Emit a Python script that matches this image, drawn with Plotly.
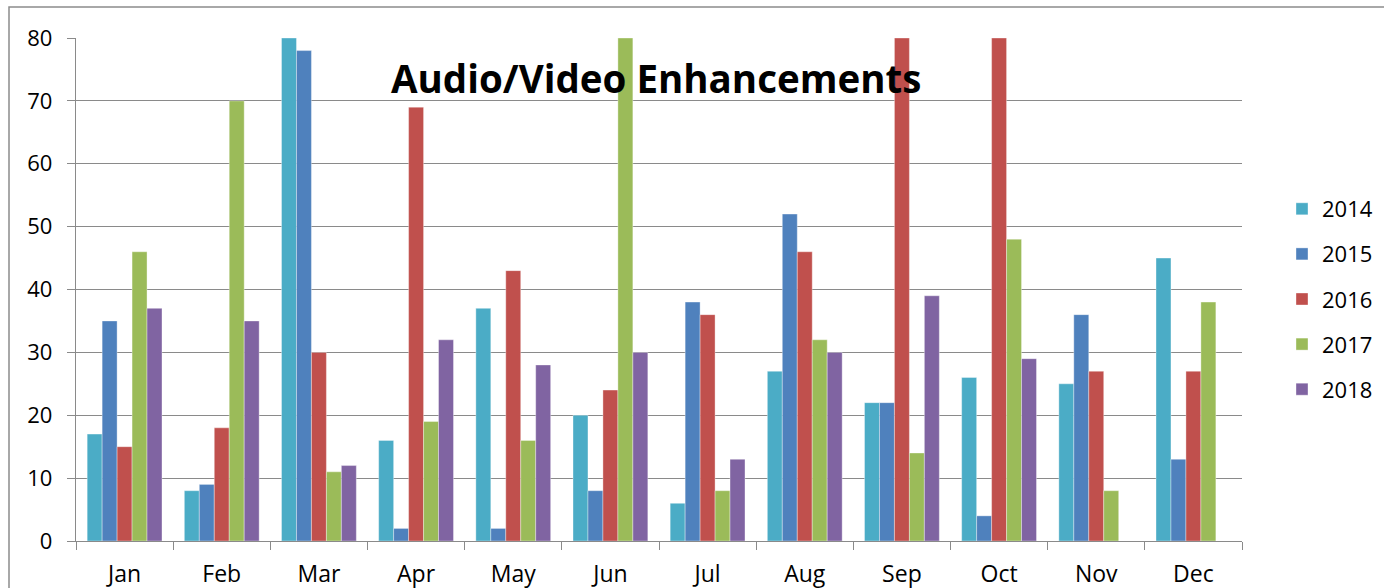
import plotly.graph_objects as go

months = ["Jan", "Feb", "Mar", "Apr", "May", "Jun", "Jul", "Aug", "Sep", "Oct", "Nov", "Dec"]
y2014 = [17, 8, 80, 16, 37, 20, 6, 27, 22, 26, 25, 45]
y2015 = [35, 9, 78, 2, 2, 8, 38, 52, 22, 4, 36, 13]
y2016 = [15, 18, 30, 69, 43, 24, 36, 46, 80, 80, 27, 27]
y2017 = [46, 70, 11, 19, 16, 80, 8, 32, 14, 48, 8, 38]
y2018 = [37, 35, 12, 32, 28, 30, 13, 30, 39, 29, 0, 0]
series = [("2014", y2014, "#4BACC6"), ("2015", y2015, "#4F81BD"), ("2016", y2016, "#C0504D"),
          ("2017", y2017, "#9BBB59"), ("2018", y2018, "#8064A2")]
title = "Audio/Video Enhancements"

FONT = "Open Sans"
W, H = 1384, 588
L, R, T, B = 76, 142, 38, 47
pw = W - L - R
ph = H - T - B


def px(x):
    return (x - L) / pw


def py(y):
    return (H - B - y) / ph


fig = go.Figure()
for name, vals, col in series:
    fig.add_trace(go.Bar(x=months, y=vals, name=name, legendgroup=name,
                         marker=dict(color=col, line=dict(color="rgba(255,255,255,0.6)", width=0.6))))

fig.update_layout(
    width=W, height=H,
    margin=dict(l=L, r=R, t=T, b=B, autoexpand=False),
    paper_bgcolor="white", plot_bgcolor="white",
    barmode="group", bargap=0.23, bargroupgap=0,
    font=dict(family=FONT, size=22, color="black"),
    showlegend=True,
    legend=dict(x=px(1282), xanchor="left", y=py(188), yanchor="top",
                tracegroupgap=13.5, font=dict(size=22, family=FONT), itemwidth=30,
                bgcolor="rgba(0,0,0,0)"),
    annotations=[dict(text="<b>" + title + "</b>", x=px(656), y=py(78),
                      xref="paper", yref="paper", showarrow=False, xanchor="center", yanchor="middle",
                      font=dict(size=38.5, family=FONT, color="black"))],
    shapes=[dict(type="rect", xref="paper", yref="paper", x0=px(9), y0=py(H + 50), x1=px(W + 50),
                 y1=py(7), line=dict(color="#8c8c8c", width=1.5), layer="below")],
)
fig.update_yaxes(range=[0, 80], dtick=10, showgrid=True, gridcolor="#8a8a8a", gridwidth=1.4,
                 showline=True, linecolor="#8a8a8a", linewidth=1.4, ticks="outside", ticklen=8,
                 tickcolor="#8a8a8a", zeroline=False, tickfont=dict(size=22), ticklabelstandoff=10)
fig.update_xaxes(showline=True, linecolor="#8a8a8a", linewidth=1.4, ticks="outside", ticklen=8,
                 tickcolor="#8a8a8a", tickson="boundaries", tickfont=dict(size=23),
                 ticklabelstandoff=12, mirror=False)
fig.write_html("out.html", config={"displayModeBar": False},
               post_script="document.body.style.margin='0';document.body.style.overflow='hidden';")
